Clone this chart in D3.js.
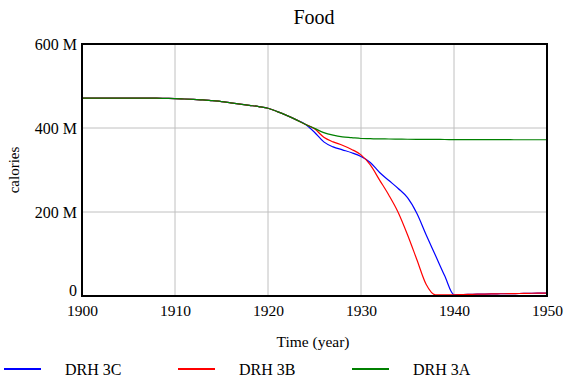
<!DOCTYPE html>
<meta charset="utf-8">
<style>
html, body { margin: 0; padding: 0; background: #fff; }
svg { display: block; font-family: "Liberation Serif", "Times New Roman", serif; }
.grid line { stroke: #c0c0c0; stroke-width: 1; }
</style>
<svg width="576" height="384"></svg>
<script src="https://d3js.org/d3.v7.min.js"></script>
<script>
// shared trajectory before the runs split (millions of calories)
var years = d3.range(1900, 1951);
var common = [471, 471, 471, 471, 471, 471, 471, 471, 471, 470.5,
              470, 469, 468, 467, 465, 463, 460, 457, 454, 451,
              447, 439, 430, 420, 409];
var drh3c = [390, 367, 355, 348, 341, 332, 318, 294, 275, 256,
             234, 197, 146, 97, 48, 3, 3.5, 4, 4.5, 5,
             5.3, 5.6, 6, 6.4, 6.8, 7];
var drh3b = [398, 378, 367, 359, 349, 336, 312, 276, 240, 199,
             146, 87, 28, 3, 3, 3, 3.5, 4, 4.5, 5,
             5.3, 5.6, 6, 6.4, 6.8, 7];
var drh3a = [399, 389, 383, 379, 377, 375, 374.5, 374, 373.8, 373.5,
             373.2, 373, 372.9, 372.8, 372.6, 372.5, 372.4, 372.3, 372.2, 372.2,
             372.1, 372.1, 372, 372, 372, 372];
var yTicks = [0, 200, 400, 600];
var xTicks = [1900, 1910, 1920, 1930, 1940, 1950];

var series = [
    {name: "DRH 3C", color: "#0000ff", values: common.concat(drh3c)},
    {name: "DRH 3B", color: "#ff0000", values: common.concat(drh3b)},
    {name: "DRH 3A", color: "#008000", values: common.concat(drh3a)}
];

var svg = d3.select("svg");
var plotL = 82, plotR = 547, plotT = 44, plotB = 296;

var x = d3.scaleLinear().domain([1900, 1950]).range([plotL, plotR]);
var y = d3.scaleLinear().domain([0, 600]).range([plotB, plotT]);

// grid
var grid = svg.append("g").attr("class", "grid");
grid.selectAll("line.v").data(xTicks.slice(1, -1)).enter().append("line")
    .attr("x1", function(d) { return x(d); }).attr("x2", function(d) { return x(d); })
    .attr("y1", plotT).attr("y2", plotB);
grid.selectAll("line.h").data(yTicks.slice(1, -1)).enter().append("line")
    .attr("y1", function(d) { return y(d); }).attr("y2", function(d) { return y(d); })
    .attr("x1", plotL).attr("x2", plotR);

// lines
var line = d3.line()
    .x(function(d, i) { return x(years[i]); })
    .y(function(d) { return y(d); })
    .curve(d3.curveMonotoneX);

svg.append("g").selectAll("path").data(series).enter().append("path")
    .attr("fill", "none")
    .attr("stroke", function(d) { return d.color; })
    .attr("stroke-width", 1.2)
    .attr("d", function(d) { return line(d.values); });

// frame
svg.append("rect")
    .attr("x", plotL).attr("y", plotT)
    .attr("width", plotR - plotL).attr("height", plotB - plotT)
    .attr("fill", "none").attr("stroke", "#000").attr("stroke-width", 2);

// axes
var yAxis = d3.axisLeft(y).tickValues(yTicks).tickSize(0).tickPadding(5)
    .tickFormat(function(d) { return d === 0 ? "0" : d + " M"; });
var yg = svg.append("g").attr("transform", "translate(" + plotL + ",0)").call(yAxis);
yg.select(".domain").remove();
yg.selectAll("text").attr("font-size", 16).attr("font-family", "Liberation Serif").attr("fill", "#000")
    .attr("dy", function(d) { return d === 0 ? "-0.05em" : "0.32em"; });

var xAxis = d3.axisBottom(x).tickValues(xTicks).tickSize(0).tickPadding(9)
    .tickFormat(d3.format("d"));
var xg = svg.append("g").attr("transform", "translate(0," + plotB + ")").call(xAxis);
xg.select(".domain").remove();
xg.selectAll("text").attr("font-size", 15.5).attr("font-family", "Liberation Serif").attr("fill", "#000");

// titles
svg.append("text").attr("x", 314).attr("y", 24).attr("text-anchor", "middle")
    .attr("font-size", 20).text("Food");
svg.append("text").attr("x", 313).attr("y", 347).attr("text-anchor", "middle")
    .attr("font-size", 15.5).text("Time (year)");
svg.append("text").attr("transform", "translate(19,170) rotate(-90)")
    .attr("text-anchor", "middle").attr("font-size", 15).text("calories");

// legend
var legend = svg.append("g").selectAll("g").data(series).enter().append("g")
    .attr("transform", function(d, i) { return "translate(" + (4 + i * 174) + ",369)"; });
legend.append("line").attr("x1", 0).attr("x2", 37)
    .attr("stroke", function(d) { return d.color; }).attr("stroke-width", 2);
legend.append("text").attr("x", 61).attr("dy", "0.35em").attr("font-size", 16)
    .text(function(d) { return d.name; });
</script>
